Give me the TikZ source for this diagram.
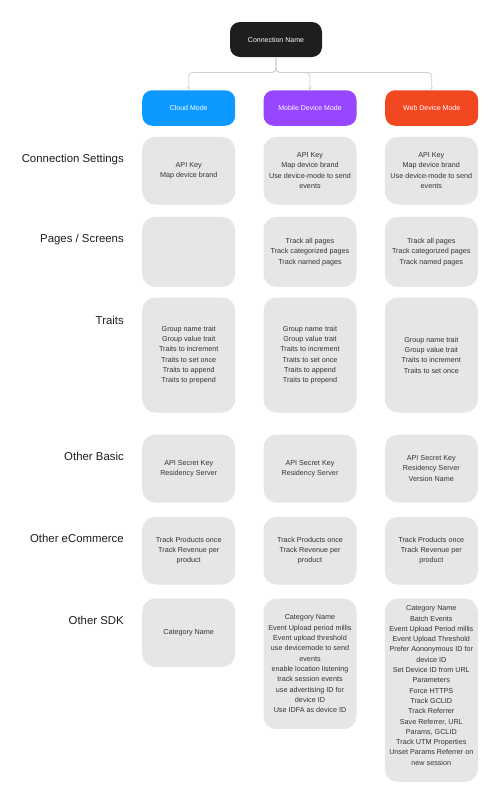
\documentclass[tikz,border=0pt]{standalone}
\usepackage{fontspec}
\setmainfont{Liberation Sans}
\usetikzlibrary{arrows.meta}
\definecolor{cloudc}{HTML}{0D99FF}
\definecolor{mobc}{HTML}{9747FF}
\definecolor{webc}{HTML}{F24822}
\definecolor{topc}{HTML}{1E1E1E}
\definecolor{boxc}{HTML}{E6E6E6}
\definecolor{linec}{HTML}{D0D0D0}
\definecolor{txtc}{HTML}{333333}
\definecolor{labc}{HTML}{1E1E1E}
\tikzset{
 modebox/.style={rounded corners=10pt, minimum width=93pt, minimum height=35.5pt, inner sep=0pt, text=white, font=\fontsize{7}{8.4}\selectfont},
 graybox/.style={fill=boxc, rounded corners=13pt, minimum width=93pt, inner sep=0pt, align=center, text=txtc, font=\fontsize{7.2}{10.3}\selectfont, anchor=north},
 rowlabel/.style={anchor=base east, inner sep=0pt, font=\fontsize{11.4}{13}\selectfont, text=labc},
 conn/.style={draw=linec, line width=0.8pt, rounded corners=4pt, -{Stealth[length=3pt,width=2.6pt]}}
}
\begin{document}
\begin{tikzpicture}[x=1pt,y=-1pt]
\fill[white] (0,0) rectangle (500,804);
\useasboundingbox (0,0) rectangle (500,804);

% top node and modes
\node[modebox, fill=topc, minimum width=92pt, minimum height=35pt] (top) at (276,39.5) {Connection Name};
\node[modebox, fill=cloudc] (cloud) at (188.7,108) {Cloud Mode};
\node[modebox, fill=mobc] (mobile) at (310,108) {Mobile Device Mode};
\node[modebox, fill=webc] (web) at (431.7,108) {Web Device Mode};

\coordinate (split) at (276,72.5);
\draw[conn] (top.south) -- (split) -| (cloud.north);
\draw[conn] (top.south) -- (split) -| (mobile.north);
\draw[conn] (top.south) -- (split) -| (web.north);

% row labels
\node[rowlabel] (lab1) at (124,162.5) {Connection Settings};
\node[rowlabel] (lab2) at (124,242.5) {Pages / Screens};
\node[rowlabel] (lab3) at (124,324) {Traits};
\node[rowlabel] (lab4) at (124,460.5) {Other Basic};
\node[rowlabel] (lab5) at (124,542.5) {Other eCommerce};
\node[rowlabel] (lab6) at (124,624) {Other SDK};

% row 1
\node[graybox, minimum height=67.6pt] (c1) at (188.7,136.7) {API Key\\Map device brand};
\node[graybox, minimum height=67.6pt] (m1) at (310,136.7) {API Key\\Map device brand\\Use device-mode to send\\events};
\node[graybox, minimum height=67.6pt] (w1) at (431.3,136.7) {API Key\\Map device brand\\Use device-mode to send\\events};

% row 2
\node[graybox, minimum height=70pt] (c2) at (188.7,216.7) {};
\node[graybox, minimum height=70pt] (m2) at (310,216.7) {Track all pages\\Track categorized pages\\Track named pages};
\node[graybox, minimum height=70pt] (w2) at (431.3,216.7) {Track all pages\\Track categorized pages\\Track named pages};

% row 3
\node[graybox, minimum height=115pt] (c3) at (188.7,297.3) {Group name trait\\Group value trait\\Traits to increment\\Traits to set once\\Traits to append\\Traits to prepend};
\node[graybox, minimum height=115pt] (m3) at (310,297.3) {Group name trait\\Group value trait\\Traits to increment\\Traits to set once\\Traits to append\\Traits to prepend};
\node[graybox, minimum height=115pt] (w3) at (431.3,297.3) {Group name trait\\Group value trait\\Traits to increment\\Traits to set once};

% row 4
\node[graybox, minimum height=68pt] (c4) at (188.7,434.3) {API Secret Key\\Residency Server};
\node[graybox, minimum height=68pt] (m4) at (310,434.3) {API Secret Key\\Residency Server};
\node[graybox, minimum height=68pt] (w4) at (431.3,434.3) {API Secret Key\\Residency Server\\Version Name};

% row 5
\node[graybox, minimum height=67.6pt] (c5) at (188.7,516.7) {Track Products once\\Track Revenue per\\product};
\node[graybox, minimum height=67.6pt] (m5) at (310,516.7) {Track Products once\\Track Revenue per\\product};
\node[graybox, minimum height=67.6pt] (w5) at (431.3,516.7) {Track Products once\\Track Revenue per\\product};

% row 6
\node[graybox, minimum height=68.4pt] (c6) at (188.7,598.3) {Category Name};
\node[graybox, minimum height=130.7pt] (m6) at (310,598.3) {Category Name\\Event Upload period millis\\Event upload threshold\\use devicemode to send\\events\\enable location listening\\track session events\\use advertising ID for\\device ID\\Use IDFA as device ID};
\node[graybox, minimum height=183.4pt, text depth=9.4pt] (w6) at (431.3,598.3) {Category Name\\Batch Events\\Event Upload Period millis\\Event Upload Threshold\\Prefer Aononymous ID for\\device ID\\Set Device ID from URL\\Parameters\\Force HTTPS\\Track GCLID\\Track Referrer\\Save Referrer, URL\\Params, GCLID\\Track UTM Properties\\Unset Params Referrer on\\new session};
\end{tikzpicture}
\end{document}
